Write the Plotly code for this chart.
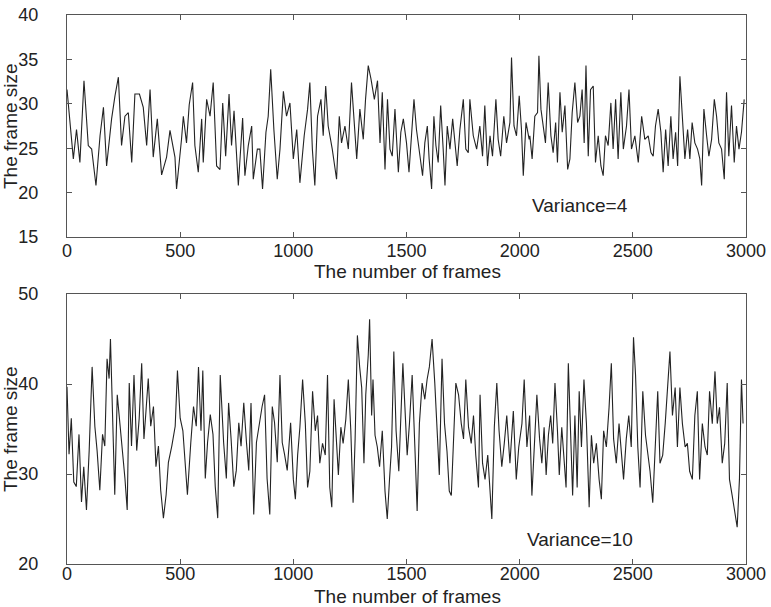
import plotly.graph_objects as go

# ---- data ----
top_frames = [0, 28, 42, 57, 75, 94, 109, 128, 146, 161, 175, 197, 212, 227, 241, 256, 271, 286, 300, 320,
              337, 352, 367, 381, 399, 418, 440, 455, 477, 484, 506, 514, 528, 540, 555, 565, 580, 595, 602, 617,
              632, 646, 661, 676, 688, 701, 716, 727, 738, 757, 776, 786, 801, 816, 823, 841, 852, 864, 879, 889,
              900, 914, 929, 941, 956, 970, 985, 1000, 1015, 1029, 1048, 1063, 1073, 1084, 1095, 1107, 1122, 1132, 1143, 1154,
              1172, 1191, 1203, 1213, 1228, 1243, 1257, 1269, 1280, 1294, 1309, 1319, 1331, 1343, 1358, 1372, 1383, 1393, 1405, 1416,
              1427, 1437, 1449, 1464, 1475, 1486, 1500, 1511, 1533, 1544, 1556, 1571, 1581, 1592, 1600, 1611, 1621, 1630, 1640, 1651,
              1662, 1670, 1680, 1692, 1704, 1714, 1724, 1736, 1751, 1762, 1773, 1780, 1795, 1810, 1824, 1836, 1846, 1858, 1869, 1880,
              1895, 1905, 1916, 1930, 1942, 1957, 1964, 1975, 1986, 1998, 2008, 2016, 2028, 2042, 2045, 2055, 2067, 2079, 2085, 2094,
              2104, 2114, 2126, 2138, 2148, 2159, 2167, 2178, 2188, 2200, 2212, 2222, 2232, 2244, 2256, 2266, 2276, 2285, 2293, 2303,
              2313, 2325, 2335, 2347, 2359, 2369, 2379, 2391, 2403, 2413, 2424, 2435, 2447, 2458, 2472, 2483, 2494, 2509, 2524, 2539,
              2553, 2568, 2580, 2590, 2600, 2612, 2624, 2634, 2645, 2656, 2668, 2678, 2689, 2698, 2708, 2718, 2730, 2742, 2752, 2762,
              2774, 2786, 2796, 2804, 2814, 2826, 2836, 2848, 2860, 2870, 2880, 2892, 2904, 2914, 2924, 2936, 2948, 2958, 2969, 2980,
              2992]
top_sizes = [31.6, 23.8, 27.1, 23.4, 32.6, 25.3, 24.9, 20.8, 26.4, 29.6, 23.0, 28.3, 30.9, 33.0, 25.3, 28.6, 29.0, 23.4, 31.1, 31.1,
             29.6, 25.3, 31.6, 24.0, 28.3, 22.0, 24.0, 27.0, 24.0, 20.4, 26.0, 28.6, 25.6, 29.9, 32.4, 25.3, 22.3, 28.3, 23.4, 30.5,
             28.6, 32.4, 23.0, 22.6, 30.1, 24.1, 31.1, 25.3, 29.2, 20.8, 28.4, 21.9, 25.3, 27.5, 21.5, 24.9, 24.9, 20.4, 26.8, 28.6,
             33.9, 27.1, 21.5, 24.9, 31.4, 28.6, 30.1, 23.8, 27.1, 21.1, 26.4, 29.4, 32.4, 24.9, 20.8, 28.6, 30.5, 26.4, 32.0, 27.5,
             24.9, 21.5, 28.6, 25.6, 27.5, 24.9, 32.4, 28.3, 23.8, 29.4, 26.0, 30.5, 34.3, 32.8, 30.5, 32.6, 25.6, 31.3, 22.6, 30.5,
             24.9, 24.1, 29.4, 22.3, 26.8, 28.3, 25.6, 22.3, 30.5, 27.1, 24.9, 21.9, 25.6, 27.5, 23.8, 20.4, 28.6, 25.3, 23.4, 29.8,
             24.9, 20.8, 27.5, 24.9, 28.3, 25.6, 23.0, 27.1, 30.5, 24.9, 24.5, 30.5, 26.4, 24.9, 27.5, 24.1, 29.8, 23.0, 26.4, 24.1,
             30.5, 26.0, 24.1, 28.6, 25.6, 27.9, 35.2, 27.5, 26.4, 30.9, 27.1, 21.9, 27.9, 26.0, 26.4, 23.8, 28.6, 29.0, 35.4, 29.4,
             27.5, 25.6, 32.4, 26.4, 24.5, 27.9, 23.4, 31.3, 26.8, 29.8, 22.6, 23.8, 29.0, 32.4, 27.9, 28.6, 31.6, 25.6, 34.3, 24.1,
             31.6, 32.0, 23.4, 26.4, 23.0, 21.9, 26.4, 25.3, 30.1, 24.9, 30.5, 23.8, 31.3, 24.9, 27.5, 31.6, 24.9, 26.4, 23.4, 28.6,
             26.0, 26.4, 24.5, 24.1, 27.5, 29.4, 26.8, 22.3, 27.1, 23.0, 28.6, 23.8, 26.8, 23.0, 33.1, 28.6, 23.8, 27.1, 23.8, 27.9,
             25.6, 24.9, 23.8, 20.8, 29.4, 26.4, 24.1, 26.0, 30.5, 28.6, 25.6, 24.9, 21.5, 31.3, 24.1, 29.8, 23.4, 27.5, 24.9, 26.8,
             30.5]

bottom_frames = [0, 9, 19, 30, 41, 53, 64, 74, 86, 98, 111, 123, 133, 145, 157, 167, 177, 186, 192, 201,
                 211, 222, 234, 246, 256, 266, 275, 285, 296, 308, 319, 330, 340, 349, 359, 370, 382, 393, 404, 414,
                 426, 438, 448, 463, 478, 488, 500, 512, 522, 532, 547, 559, 571, 581, 592, 600, 611, 621, 633, 645,
                 655, 666, 677, 692, 704, 714, 725, 737, 748, 759, 769, 781, 793, 803, 813, 825, 837, 847, 862, 873,
                 884, 896, 907, 917, 929, 941, 951, 961, 973, 988, 1000, 1009, 1019, 1029, 1041, 1053, 1063, 1073, 1085, 1097,
                 1107, 1117, 1129, 1141, 1151, 1161, 1170, 1180, 1191, 1199, 1210, 1220, 1232, 1243, 1254, 1264, 1273, 1283, 1293, 1302,
                 1312, 1320, 1331, 1337, 1346, 1352, 1361, 1371, 1381, 1393, 1405, 1415, 1425, 1434, 1444, 1454, 1466, 1474, 1484, 1493,
                 1503, 1513, 1525, 1537, 1547, 1557, 1569, 1581, 1591, 1601, 1613, 1625, 1635, 1645, 1657, 1668, 1679, 1689, 1698, 1708,
                 1718, 1730, 1742, 1752, 1762, 1774, 1786, 1796, 1806, 1818, 1825, 1836, 1847, 1859, 1869, 1877, 1888, 1899, 1909, 1921,
                 1932, 1943, 1957, 1972, 1985, 1996, 2010, 2020, 2032, 2044, 2054, 2064, 2076, 2088, 2098, 2108, 2117, 2127, 2137, 2146,
                 2156, 2167, 2175, 2186, 2196, 2205, 2215, 2225, 2234, 2244, 2254, 2263, 2273, 2284, 2295, 2307, 2317, 2327, 2339, 2351,
                 2361, 2371, 2383, 2395, 2405, 2415, 2427, 2439, 2449, 2459, 2471, 2482, 2493, 2503, 2512, 2522, 2532, 2544, 2556, 2566,
                 2576, 2588, 2599, 2610, 2620, 2632, 2643, 2654, 2664, 2675, 2687, 2697, 2708, 2719, 2731, 2741, 2751, 2763, 2774, 2785,
                 2795, 2807, 2819, 2829, 2839, 2851, 2863, 2873, 2883, 2895, 2906, 2917, 2927, 2939, 2950, 2961, 2971, 2980, 2987]
bottom_sizes = [39.7, 32.2, 36.2, 29.1, 28.6, 34.4, 26.9, 30.8, 26.0, 32.6, 41.9, 35.3, 32.6, 28.2, 34.4, 33.1, 42.8, 40.6, 45.0, 35.3,
                27.7, 38.8, 35.7, 32.2, 29.5, 26.0, 40.1, 33.1, 41.0, 32.6, 36.2, 42.3, 33.9, 37.0, 40.6, 35.3, 37.5, 30.8, 33.1, 28.2,
                25.1, 27.7, 31.3, 33.1, 35.3, 41.5, 36.2, 34.8, 31.7, 27.7, 33.5, 37.5, 35.3, 41.9, 34.8, 41.5, 29.5, 33.5, 36.6, 34.4,
                28.6, 25.1, 41.0, 33.5, 29.5, 37.9, 33.9, 28.6, 30.4, 35.7, 33.1, 37.9, 33.5, 30.4, 37.9, 25.5, 33.5, 35.3, 37.5, 38.8,
                29.5, 25.5, 37.5, 35.7, 31.3, 41.0, 33.5, 32.2, 30.4, 35.7, 29.4, 27.2, 32.1, 35.2, 40.5, 35.6, 28.5, 30.3, 39.2, 34.8,
                36.5, 31.2, 33.4, 32.1, 41.0, 28.5, 26.3, 38.3, 33.0, 29.9, 35.2, 33.4, 36.1, 40.5, 34.8, 26.8, 33.9, 45.4, 41.9, 39.6,
                31.2, 38.8, 43.2, 47.2, 36.5, 40.5, 34.3, 33.0, 30.8, 34.8, 28.1, 25.0, 29.4, 33.0, 43.6, 34.8, 30.3, 36.5, 42.3, 37.4,
                32.1, 35.6, 41.0, 33.0, 25.9, 35.6, 40.1, 38.3, 40.5, 41.9, 45.0, 40.1, 35.6, 29.9, 42.8, 35.6, 32.5, 28.1, 27.6, 33.0,
                40.1, 38.8, 35.6, 33.9, 40.5, 35.2, 33.4, 36.5, 32.1, 28.5, 38.8, 31.2, 29.4, 32.1, 28.1, 25.0, 35.2, 40.1, 34.8, 30.8,
                33.4, 36.5, 31.2, 37.0, 29.4, 33.0, 35.6, 40.5, 33.0, 36.5, 27.6, 33.0, 38.8, 33.9, 31.2, 35.2, 29.9, 34.3, 36.5, 33.4,
                40.1, 34.8, 29.9, 35.2, 32.1, 28.5, 42.3, 33.0, 27.6, 36.5, 28.5, 39.2, 33.0, 40.5, 35.6, 26.3, 34.3, 31.2, 33.4, 29.4,
                27.2, 34.8, 33.0, 37.4, 42.3, 33.9, 31.2, 35.6, 32.1, 29.4, 33.9, 36.5, 33.0, 45.2, 41.0, 33.0, 28.5, 39.2, 34.3, 32.1,
                30.3, 26.8, 33.0, 39.2, 31.2, 32.1, 35.6, 40.1, 43.6, 36.5, 39.6, 33.0, 39.6, 35.6, 33.0, 33.4, 30.3, 29.4, 36.5, 39.2,
                29.4, 35.6, 33.0, 32.1, 39.2, 35.6, 41.4, 35.6, 37.4, 31.2, 33.4, 40.1, 29.4, 27.6, 25.9, 24.1, 29.4, 40.5, 35.6]

x_ticks = [0, 500, 1000, 1500, 2000, 2500, 3000]
top_y_ticks = [15, 20, 25, 30, 35, 40]
bottom_y_ticks = [20, 30, 40, 50]
labels = ["Variance=4", "Variance=10"]
x_title = "The number of frames"
y_title = "The frame size"

W, H = 771, 607
FONT = "Liberation Sans, Arial, Helvetica, sans-serif"
FS = 19
TFS = 18
LINE = "#232323"
AX = "#555555"
TXT = "#222222"

fig = go.Figure()
fig.add_trace(go.Scatter(x=top_frames, y=top_sizes, mode="lines",
                         line=dict(color=LINE, width=1.1), xaxis="x", yaxis="y", showlegend=False))
fig.add_trace(go.Scatter(x=bottom_frames, y=bottom_sizes, mode="lines",
                         line=dict(color=LINE, width=1.1), xaxis="x2", yaxis="y2", showlegend=False))

xdom = [67 / W, 746 / W]
common_ax = dict(showline=True, linecolor=AX, linewidth=1, mirror="ticks", ticks="inside", automargin=False,
                 ticklen=5, tickcolor=AX, showgrid=False, zeroline=False,
                 tickfont=dict(family=FONT, size=TFS, color=TXT))

top_dom = [1 - 237 / H, 1 - 15 / H]
bot_dom = [1 - 564 / H, 1 - 294 / H]

fig.update_layout(
    width=W, height=H, margin=dict(l=0, r=0, t=0, b=0, autoexpand=False),
    paper_bgcolor="white", plot_bgcolor="white",
    font=dict(family=FONT, size=FS, color=TXT),
    xaxis=dict(domain=xdom, anchor="y", range=[0, 3000], tickvals=x_ticks,
               ticklabelstandoff=-3, **common_ax),
    yaxis=dict(domain=top_dom, anchor="x", range=[15, 40], tickvals=top_y_ticks,
               ticklabelstandoff=24, **common_ax),
    xaxis2=dict(domain=xdom, anchor="y2", range=[0, 3000], tickvals=x_ticks,
                ticklabelstandoff=-7, **common_ax),
    yaxis2=dict(domain=bot_dom, anchor="x2", range=[20, 50], tickvals=bottom_y_ticks,
                ticklabelstandoff=24, **common_ax),
    annotations=[
        dict(text=x_title, x=0.528, y=1 - 271 / H, xref="paper", yref="paper", showarrow=False,
             xanchor="center", yanchor="middle", font=dict(family=FONT, size=FS, color=TXT)),
        dict(text=x_title, x=0.528, y=0, yshift=-2, xref="paper", yref="paper", showarrow=False,
             xanchor="center", yanchor="bottom", font=dict(family=FONT, size=FS, color=TXT)),
        dict(text=y_title, x=10 / W, y=1 - 126 / H, xref="paper", yref="paper", showarrow=False,
             textangle=-90, xanchor="center", yanchor="middle", font=dict(family=FONT, size=FS, color=TXT)),
        dict(text=y_title, x=10 / W, y=1 - 429 / H, xref="paper", yref="paper", showarrow=False,
             textangle=-90, xanchor="center", yanchor="middle", font=dict(family=FONT, size=FS, color=TXT)),
        dict(text=labels[0], x=2268, y=18.5, xref="x", yref="y", showarrow=False,
             font=dict(family=FONT, size=FS, color=TXT)),
        dict(text=labels[1], x=2267, y=22.7, xref="x2", yref="y2", showarrow=False,
             font=dict(family=FONT, size=FS, color=TXT)),
    ],
)

fig.write_html("out.html")
